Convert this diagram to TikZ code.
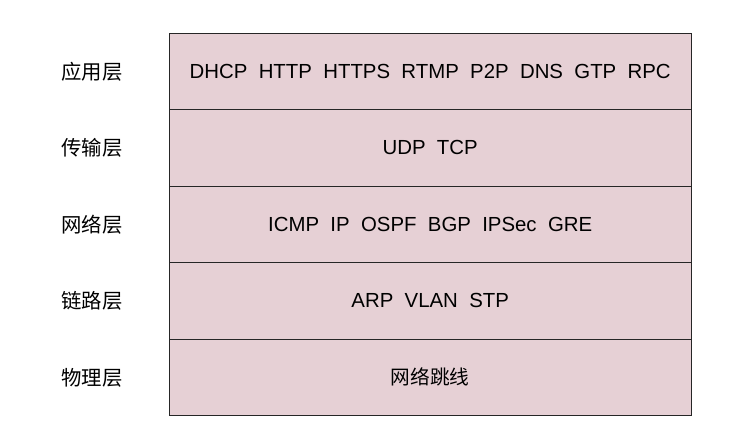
\documentclass[tikz,border=0pt]{standalone}
\usepackage{fontspec}
\setmainfont{Liberation Sans}
\newfontfamily\cjk{Noto Sans CJK SC}
\usepackage{tikz}
\definecolor{layerpink}{RGB}{230,208,213}
\tikzset{
	layerbox/.style={draw=black!85, line width=0.3mm, fill=layerpink},
	layername/.style={font=\cjk\fontsize{14.5}{17}\selectfont},
	protos/.style={font=\fontsize{14.5}{17}\selectfont}
}

\begin{document}
\begin{tikzpicture}
\useasboundingbox (0,0) rectangle (18.3,10.95);
\foreach \i/\name/\list in {0/应用层/{DHCP\ \ HTTP\ \ HTTPS\ \ RTMP\ \ P2P\ \ DNS\ \ GTP\ \ RPC},
	1/传输层/{UDP\ \ TCP},
	2/网络层/{ICMP\ \ IP\ \ OSPF\ \ BGP\ \ IPSec\ \ GRE},
	3/链路层/{ARP\ \ VLAN\ \ STP},
	4/物理层/{\cjk\fontsize{14}{17}\selectfont 网络跳线}}{
	\draw[layerbox](4.23,10.12-\i*1.912) rectangle (17.28,10.12-\i*1.912-1.912);
	\node[protos] (proto\i) at (10.755,10.12-\i*1.912-0.956) {\list};
	\node[layername] (name\i) at (2.3,10.12-\i*1.912-0.956) {\name};
}
\end{tikzpicture}
\end{document}
